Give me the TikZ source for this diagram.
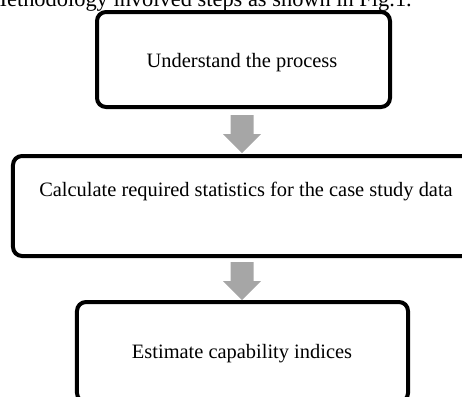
\documentclass[tikz,border=0pt]{standalone}
\usepackage{fontspec}
\setmainfont{Liberation Serif}
\usetikzlibrary{calc}
\definecolor{arrowgray}{RGB}{166,166,166}
\begin{document}
\begin{tikzpicture}[x=1bp,y=-1bp,
  box/.style={draw=black, line width=4bp, rounded corners=9bp, inner sep=0pt},
  txt/.style={font=\fontsize{20.5}{24}\selectfont, inner sep=0pt, anchor=base},
  blockarrow/.pic={\fill[arrowgray] (-11.5,0) -- (11.5,0) -- (11.5,19) -- (19,19) -- (0,38) -- (-19,19) -- (-11.5,19) -- cycle;}]
\useasboundingbox (0,0) rectangle (462,396);
\begin{scope}
\clip (0,0) rectangle (462,396);
\node[anchor=base east, font=\fontsize{22.5}{27}\selectfont, inner sep=0pt] (intro) at (412,6) {Methodology involved steps as shown in Fig.1.};
\node[box, minimum width=293bp, minimum height=95bp] (b1) at (243.5,59.5) {};
\node[box, minimum width=467bp, minimum height=100bp] (b2) at (246.5,206) {};
\node[box, minimum width=331bp, minimum height=100bp] (b3) at (242.5,352) {};
\node[txt] (t1) at (242,67) {Understand the process};
\node[txt] (t2) at (246,196) {Calculate required statistics for the case study data};
\node[txt] (t3) at (242,358) {Estimate capability indices};
\coordinate (a1) at ($(b1.south)+(-1.5,6)$);
\coordinate (a2) at ($(b2.south)+(-4.5,4)$);
\pic at (a1) {blockarrow};
\pic at (a2) {blockarrow};
\end{scope}
\end{tikzpicture}
\end{document}
